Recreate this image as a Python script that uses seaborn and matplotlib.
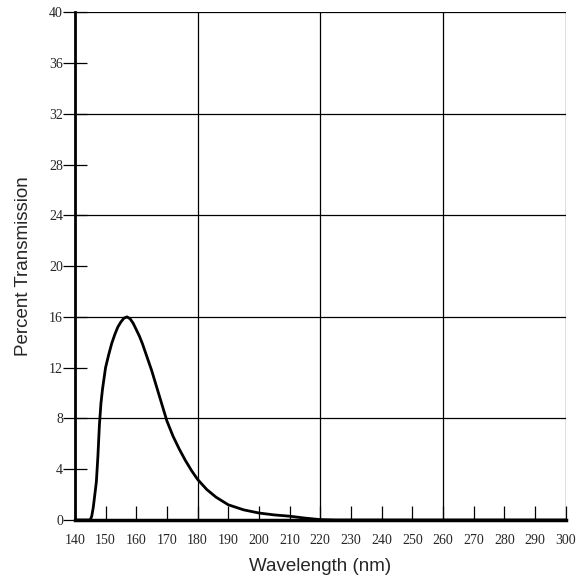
import numpy as np
import pandas as pd
from matplotlib import pyplot as plt
import seaborn as sns

# values
wavelength = [140, 145, 145.5, 146, 146.5, 147, 147.5, 148, 148.5, 149, 150,
              151, 152, 153, 154, 155, 156, 157, 158, 159, 160,
              161, 162, 163, 164, 165, 166, 167, 168, 169, 170,
              172, 174, 176, 178, 180, 183, 186, 190, 195, 200,
              205, 210, 215, 220, 225, 260, 300]
transmission = [0, 0, 0.3, 1.0, 2.0, 3.0, 5.0, 7.5, 9.2, 10.3, 12.0,
                13.0, 13.9, 14.6, 15.2, 15.6, 15.9, 16.0, 15.85, 15.5, 15.0,
                14.5, 13.9, 13.2, 12.5, 11.8, 11.0, 10.2, 9.4, 8.6, 7.8,
                6.6, 5.6, 4.7, 3.9, 3.2, 2.4, 1.8, 1.2, 0.8, 0.55,
                0.4, 0.3, 0.15, 0.03, 0, 0, 0]
x_ticks = list(range(140, 301, 10))
y_ticks = list(range(0, 41, 4))

df = pd.DataFrame({'Wavelength': wavelength, 'Transmission': transmission})

sns.set_style("white")
fig = plt.figure(figsize=(5.85, 5.81), dpi=100)
ax = fig.add_axes([0.128, 0.105, 0.839, 0.874])

sns.lineplot(data=df, x='Wavelength', y='Transmission', ax=ax,
             color='black', linewidth=2.0, sort=False)

ax.set_xlim(140, 300)
ax.set_ylim(0, 40)

# grid every 40 nm and every 8 %
for gx in [180, 220, 260, 300]:
    ax.axvline(gx, color='black', linewidth=0.9, zorder=1)
for gy in [8, 16, 24, 32, 40]:
    ax.axhline(gy, color='black', linewidth=0.9, zorder=1)

ax.set_xticks(x_ticks)
ax.set_yticks(y_ticks)
ax.set_xticklabels([str(t) for t in x_ticks], family='Liberation Serif', fontsize=10)
ax.set_yticklabels([str(t) for t in y_ticks], family='Liberation Serif', fontsize=10)
ax.tick_params(axis='x', bottom=True, direction='in', length=10, width=0.9, color='black', pad=10)
ax.tick_params(axis='y', left=True, direction='inout', length=17, width=0.9, color='black', pad=0)

for side in ['top', 'right']:
    ax.spines[side].set_visible(False)
ax.spines['left'].set_linewidth(2.0)
ax.spines['bottom'].set_linewidth(2.5)
ax.spines['left'].set_color('black')
ax.spines['bottom'].set_color('black')

ax.set_xlabel('Wavelength (nm)', family='Liberation Sans', fontsize=13.5, labelpad=8)
ax.set_ylabel('Percent Transmission', family='Liberation Sans', fontsize=13.5, labelpad=12)

plt.savefig('out.png', dpi=100)
